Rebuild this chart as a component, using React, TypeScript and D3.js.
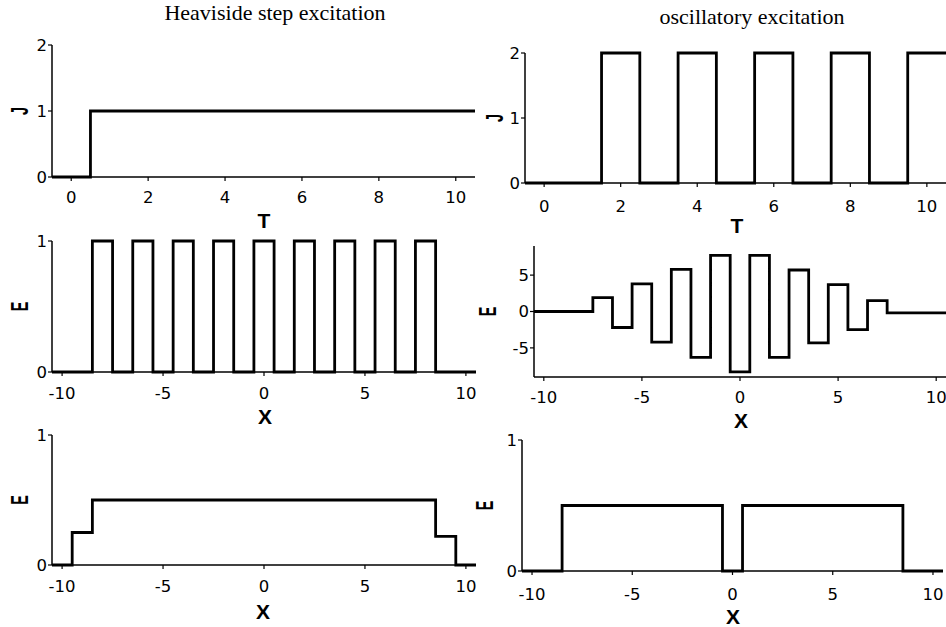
import React from "react";
import * as d3 from "d3";

// ---- data ----
const tlEdges = [-0.5, 0.5, 10.5];
const tlValues = [0, 1];

const trEdges = [-0.5, 1.5, 2.5, 3.5, 4.5, 5.5, 6.5, 7.5, 8.5, 9.5, 10.5];
const trValues = [0, 2, 0, 2, 0, 2, 0, 2, 0, 2];

const mlEdges = [-10.5, -8.5, -7.5, -6.5, -5.5, -4.5, -3.5, -2.5, -1.5, -0.5, 0.5, 1.5, 2.5, 3.5, 4.5, 5.5, 6.5, 7.5, 8.5, 10.5];
const mlValues = [0, 1, 0, 1, 0, 1, 0, 1, 0, 1, 0, 1, 0, 1, 0, 1, 0, 1, 0];

const mrEdges = [-10.5, -7.5, -6.5, -5.5, -4.5, -3.5, -2.5, -1.5, -0.5, 0.5, 1.5, 2.5, 3.5, 4.5, 5.5, 6.5, 7.5, 10.5];
const mrValues = [0, 1.9, -2.2, 3.8, -4.2, 5.8, -6.3, 7.7, -8.3, 7.7, -6.3, 5.7, -4.3, 3.7, -2.5, 1.5, -0.2];

const blEdges = [-10.5, -9.5, -8.5, 8.5, 9.5, 10.5];
const blValues = [0, 0.25, 0.5, 0.22, 0];

const brEdges = [-10.5, -8.5, -0.5, 0.5, 8.5, 10.5];
const brValues = [0, 0.5, 0, 0.5, 0];

const tTicks = [0, 2, 4, 6, 8, 10];
const xTicks = [-10, -5, 0, 5, 10];
const jTicks = [0, 1, 2];
const eTicks01 = [0, 1];
const eTicksOsc = [-5, 0, 5];

const titles = ["Heaviside step excitation", "oscillatory excitation"];

type PanelProps = {
  edges: number[];
  values: number[];
  xDomain: [number, number];
  xRange: [number, number];
  yDomain: [number, number];
  yRange: [number, number];
  xTicks: number[];
  yTicks: number[];
  yLabel: string;
  xLabel: string;
  yLabelX: number;
  xLabelY: number;
  xLabelX: number;
  tickDy?: number;
};

const tickFont = "'DejaVu Sans', Verdana, sans-serif";
const labelFont = "'Liberation Sans', Arial, sans-serif";
const serif = "'Liberation Serif', 'Times New Roman', serif";

function Panel(p: PanelProps) {
  const x = d3.scaleLinear().domain(p.xDomain).range(p.xRange);
  const y = d3.scaleLinear().domain(p.yDomain).range(p.yRange);
  const pts: [number, number][] = p.values.map((v, i) => [p.edges[i], v]);
  pts.push([p.edges[p.edges.length - 1], p.values[p.values.length - 1]]);
  const line = d3
    .line<[number, number]>()
    .x((d) => x(d[0]))
    .y((d) => y(d[1]))
    .curve(d3.curveStepAfter);
  const x0 = p.xRange[0];
  const yb = p.yRange[0];
  const dy = p.tickDy ?? 27;
  return (
    <g>
      {/* y axis */}
      <line x1={x0} x2={x0} y1={p.yRange[0]} y2={p.yRange[1]} stroke="#000" strokeWidth={1.5} />
      {p.yTicks.map((t) => (
        <g key={"y" + t}>
          <line x1={x0 - 4} x2={x0} y1={y(t)} y2={y(t)} stroke="#000" strokeWidth={1.2} />
          <text x={x0 - 5} y={y(t)} dy="0.36em" textAnchor="end" fontFamily={tickFont} fontSize={16.5}>
            {t}
          </text>
        </g>
      ))}
      {/* x axis */}
      <line x1={p.xRange[0]} x2={p.xRange[1]} y1={yb} y2={yb} stroke="#000" strokeWidth={1.5} />
      {p.xTicks.map((t) => (
        <g key={"x" + t}>
          <line x1={x(t)} x2={x(t)} y1={yb} y2={yb + 4} stroke="#000" strokeWidth={1.2} />
          <text x={x(t)} y={yb + dy} textAnchor="middle" fontFamily={tickFont} fontSize={16.5}>
            {t}
          </text>
        </g>
      ))}
      {/* data */}
      <path d={line(pts) ?? ""} fill="none" stroke="#000" strokeWidth={2.8} />
      {/* labels */}
      <text
        transform={`translate(${p.yLabelX},${(p.yRange[0] + p.yRange[1]) / 2}) rotate(-90) scale(0.6,1)`}
        textAnchor="middle"
        dy="0.36em"
        fontFamily={labelFont}
        fontWeight="bold"
        fontSize={24}
      >
        {p.yLabel}
      </text>
      <text x={p.xLabelX} y={p.xLabelY} textAnchor="middle" fontFamily={labelFont} fontWeight="bold" fontSize={21}>
        {p.xLabel}
      </text>
    </g>
  );
}

export default function App() {
  return (
    <svg
      width={946}
      height={627}
      style={{ position: "absolute", left: 0, top: 0, background: "#fff" }}
    >
      <rect width={946} height={627} fill="#fff" />
      <text x={275} y={20} textAnchor="middle" fontFamily={serif} fontSize={22}>
        {titles[0]}
      </text>
      <text x={752} y={24} textAnchor="middle" fontFamily={serif} fontSize={22}>
        {titles[1]}
      </text>

      <Panel
        edges={tlEdges}
        values={tlValues}
        xDomain={[-0.5, 10.5]}
        xRange={[52, 475]}
        yDomain={[0, 2]}
        yRange={[177, 45]}
        xTicks={tTicks}
        yTicks={jTicks}
        yLabel="J"
        xLabel="T"
        yLabelX={19}
        xLabelX={264}
        xLabelY={228}
        tickDy={26}
      />
      <Panel
        edges={trEdges}
        values={trValues}
        xDomain={[-0.5, 10.5]}
        xRange={[525, 946]}
        yDomain={[0, 2]}
        yRange={[183, 53]}
        xTicks={tTicks}
        yTicks={jTicks}
        yLabel="J"
        xLabel="T"
        yLabelX={494}
        xLabelX={737}
        xLabelY={233}
        tickDy={29}
      />
      <Panel
        edges={mlEdges}
        values={mlValues}
        xDomain={[-10.5, 10.5]}
        xRange={[52, 476]}
        yDomain={[0, 1]}
        yRange={[372, 241]}
        xTicks={xTicks}
        yTicks={eTicks01}
        yLabel="E"
        xLabel="X"
        yLabelX={19}
        xLabelX={265}
        xLabelY={424}
        tickDy={27}
      />
      <Panel
        edges={mrEdges}
        values={mrValues}
        xDomain={[-10.5, 10.5]}
        xRange={[534, 946]}
        yDomain={[-9, 9]}
        yRange={[377, 246]}
        xTicks={xTicks}
        yTicks={eTicksOsc}
        yLabel="E"
        xLabel="X"
        yLabelX={487}
        xLabelX={741}
        xLabelY={428}
        tickDy={26}
      />
      <Panel
        edges={blEdges}
        values={blValues}
        xDomain={[-10.5, 10.5]}
        xRange={[52, 476]}
        yDomain={[0, 1]}
        yRange={[565, 435]}
        xTicks={xTicks}
        yTicks={eTicks01}
        yLabel="E"
        xLabel="X"
        yLabelX={19}
        xLabelX={263}
        xLabelY={619}
        tickDy={27}
      />
      <Panel
        edges={brEdges}
        values={brValues}
        xDomain={[-10.5, 10.5]}
        xRange={[522, 943]}
        yDomain={[0, 1]}
        yRange={[571, 440]}
        xTicks={xTicks}
        yTicks={eTicks01}
        yLabel="E"
        xLabel="X"
        yLabelX={484}
        xLabelX={733}
        xLabelY={624}
        tickDy={29}
      />
    </svg>
  );
}
